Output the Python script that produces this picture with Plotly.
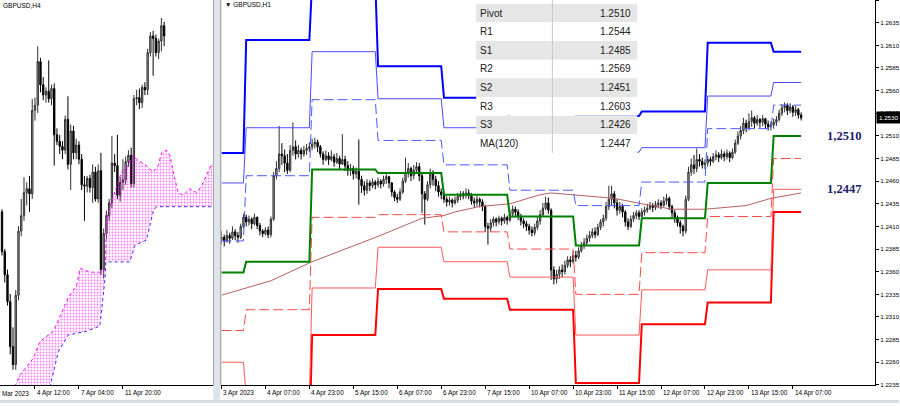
import plotly.graph_objects as go

W, H = 900, 406

# ---------------- H1 chart (right panel) ----------------
h1_tick_bars = [0, 16, 32, 48, 64, 80, 96, 112, 128, 144, 160, 176, 192, 208]
h1_tick_text = ["3 Apr 2023", "4 Apr 07:00", "4 Apr 23:00", "5 Apr 15:00", "6 Apr 07:00",
                "6 Apr 23:00", "7 Apr 15:00", "10 Apr 07:00", "10 Apr 23:00", "11 Apr 15:00",
                "12 Apr 07:00", "12 Apr 23:00", "13 Apr 15:00", "14 Apr 07:00"]
price_ticks = [1.2235, 1.2260, 1.2285, 1.2310, 1.2335, 1.2360, 1.2385, 1.2410, 1.2435,
               1.2460, 1.2485, 1.2510, 1.2535, 1.2560, 1.2585, 1.2610, 1.2635, 1.2660]
price_tick_text = ["1.2235", "1.2260", "1.2285", "1.2310", "1.2335", "1.2360", "1.2385", "1.2410",
                   "1.2435", "1.2460", "1.2485", "1.2510", "1.2535", "1.2560", "1.2585", "1.2610",
                   "1.2635", "1.2660"]

# daily pivot levels (3,4,5,6,7,10,11,12,13,14 Apr) and first H1 bar of each day
day_start_bars = [0, 9, 33, 57, 81, 105, 129, 153, 177, 201]
R3 = [1.2491, 1.2616, 1.2680, 1.2587, 1.2552, 1.2520, 1.2532, 1.2537, 1.2613, 1.2603]
R2 = [1.2458, 1.2519, 1.2603, 1.2551, 1.2519, 1.2495, 1.2492, 1.2497, 1.2554, 1.2569]
R1 = [1.2394, 1.2466, 1.2550, 1.2505, 1.2478, 1.2450, 1.2433, 1.2459, 1.2518, 1.2544]
PIV = [1.2359, 1.2371, 1.2473, 1.2469, 1.2445, 1.2421, 1.2389, 1.2419, 1.2458, 1.2510]
S1 = [1.2295, 1.2318, 1.2420, 1.2423, 1.2404, 1.2385, 1.2335, 1.2381, 1.2421, 1.2485]
S2 = [1.2260, 1.2223, 1.2342, 1.2387, 1.2371, 1.2354, 1.2290, 1.2340, 1.2362, 1.2451]
S3 = [1.2196, 1.2170, 1.2290, 1.2341, 1.2330, 1.2318, 1.2237, 1.2302, 1.2326, 1.2426]

ma_bars = [0, 18, 33, 57, 73, 81, 85, 94, 105, 116, 120, 128, 138, 143, 153, 164, 176, 191, 200, 211]
ma_vals = [1.2334, 1.2350, 1.2371, 1.2399, 1.2419, 1.2422, 1.2426, 1.2432, 1.2435, 1.2445,
           1.2447, 1.2445, 1.2442, 1.2441, 1.2435, 1.2429, 1.2429, 1.2433, 1.2441, 1.2447]

# H1 candles, prices in pips (1.2398 -> 2398)
h1_first_open = 2395
h1_close = [
    2398, 2394, 2400, 2397, 2404, 2400, 2398, 2410, 2420, 2415,
    2418, 2413, 2420, 2411, 2405, 2402, 2406, 2401, 2418, 2466,
    2474, 2490, 2488, 2480, 2472, 2494, 2498, 2490, 2494, 2490,
    2494, 2496, 2498, 2501, 2503, 2498, 2490, 2484, 2488, 2484,
    2487, 2481, 2485, 2479, 2484, 2477, 2472, 2474, 2468, 2471,
    2462, 2455, 2450, 2458, 2455, 2459, 2456, 2460, 2457, 2462,
    2465, 2458, 2448, 2442, 2440, 2448, 2460, 2470, 2474, 2466,
    2472, 2476, 2466, 2446, 2440, 2456, 2468, 2462, 2455, 2448,
    2445, 2440, 2437, 2439, 2436, 2439, 2443, 2446, 2444, 2447,
    2444, 2438, 2436, 2440, 2437, 2432, 2410, 2408, 2414, 2418,
    2415, 2419, 2416, 2420, 2417, 2424, 2429, 2426, 2421, 2416,
    2413, 2410, 2406, 2403, 2409, 2416, 2423, 2430, 2436, 2428,
    2362, 2352, 2357, 2362, 2360, 2367, 2373, 2371, 2378, 2376,
    2383, 2389, 2392, 2397, 2400, 2404, 2401, 2409, 2415, 2419,
    2432, 2440, 2446, 2436, 2428, 2432, 2426, 2415, 2410, 2418,
    2422, 2425, 2421, 2426, 2428, 2430, 2433, 2431, 2434, 2436,
    2433, 2438, 2441, 2432, 2425, 2420, 2414, 2410, 2405, 2440,
    2470, 2478, 2474, 2484, 2482, 2478, 2480, 2484, 2482, 2487,
    2489, 2486, 2490, 2487, 2491, 2486, 2492, 2502, 2510, 2516,
    2524, 2519, 2526, 2530, 2524, 2528, 2525, 2529, 2523, 2520,
    2522, 2525, 2528, 2535, 2541, 2544, 2538, 2542, 2536, 2539,
    2533, 2530]
h1_high = [
    2405, 2401, 2406, 2403, 2410, 2407, 2404, 2413, 2424, 2423,
    2422, 2420, 2424, 2421, 2414, 2407, 2409, 2410, 2421, 2470,
    2482, 2521, 2502, 2495, 2490, 2500, 2525, 2505, 2500, 2497,
    2499, 2501, 2503, 2507, 2508, 2506, 2500, 2493, 2494, 2492,
    2494, 2490, 2491, 2488, 2512, 2488, 2482, 2479, 2477, 2475,
    2506, 2466, 2460, 2462, 2461, 2463, 2461, 2464, 2462, 2466,
    2468, 2466, 2459, 2450, 2446, 2452, 2464, 2486, 2480, 2476,
    2478, 2481, 2480, 2468, 2449, 2460, 2474, 2472, 2466, 2460,
    2452, 2448, 2443, 2443, 2441, 2443, 2447, 2449, 2449, 2452,
    2451, 2447, 2442, 2444, 2442, 2440, 2434, 2414, 2418, 2421,
    2420, 2422, 2421, 2424, 2422, 2428, 2433, 2432, 2429, 2424,
    2419, 2416, 2413, 2410, 2413, 2420, 2428, 2436, 2443, 2442,
    2430, 2366, 2362, 2366, 2368, 2372, 2377, 2377, 2383, 2383,
    2387, 2393, 2397, 2401, 2405, 2408, 2409, 2413, 2418, 2423,
    2437, 2455, 2455, 2449, 2440, 2437, 2435, 2428, 2419, 2422,
    2426, 2428, 2428, 2430, 2432, 2435, 2437, 2436, 2438, 2440,
    2439, 2443, 2446, 2443, 2434, 2428, 2422, 2417, 2412, 2444,
    2476, 2485, 2489, 2496, 2490, 2486, 2484, 2488, 2487, 2491,
    2494, 2492, 2495, 2493, 2495, 2493, 2496, 2506, 2515, 2521,
    2530, 2528, 2535, 2538, 2532, 2533, 2530, 2533, 2530, 2527,
    2526, 2529, 2532, 2539, 2545, 2547, 2546, 2546, 2544, 2543,
    2541, 2536]
h1_low = [
    2390, 2388, 2392, 2391, 2395, 2395, 2392, 2396, 2408, 2410,
    2411, 2407, 2411, 2407, 2400, 2398, 2400, 2397, 2398, 2416,
    2462, 2470, 2478, 2470, 2468, 2470, 2488, 2484, 2486, 2484,
    2487, 2489, 2492, 2494, 2496, 2492, 2486, 2478, 2482, 2478,
    2482, 2476, 2479, 2472, 2478, 2471, 2466, 2466, 2462, 2463,
    2434, 2447, 2444, 2446, 2449, 2452, 2451, 2453, 2452, 2454,
    2457, 2452, 2443, 2438, 2436, 2438, 2446, 2458, 2464, 2460,
    2462, 2468, 2460, 2425, 2412, 2438, 2452, 2455, 2449, 2443,
    2440, 2436, 2432, 2433, 2431, 2434, 2436, 2439, 2440, 2441,
    2440, 2434, 2431, 2432, 2431, 2427, 2404, 2390, 2404, 2410,
    2410, 2412, 2411, 2413, 2412, 2415, 2420, 2420, 2417, 2411,
    2408, 2405, 2401, 2399, 2400, 2406, 2412, 2421, 2428, 2424,
    2351, 2346, 2347, 2352, 2354, 2357, 2364, 2365, 2369, 2371,
    2374, 2381, 2385, 2389, 2393, 2397, 2397, 2399, 2406, 2410,
    2416, 2428, 2433, 2430, 2422, 2424, 2420, 2410, 2406, 2408,
    2415, 2418, 2417, 2420, 2422, 2425, 2428, 2426, 2428, 2430,
    2429, 2432, 2434, 2428, 2420, 2414, 2410, 2402, 2399, 2402,
    2438, 2466, 2468, 2470, 2476, 2474, 2473, 2476, 2477, 2480,
    2483, 2481, 2484, 2482, 2484, 2481, 2484, 2490, 2500, 2506,
    2512, 2514, 2516, 2520, 2518, 2521, 2519, 2521, 2518, 2516,
    2516, 2518, 2521, 2526, 2532, 2536, 2533, 2535, 2531, 2532,
    2529, 2527]

table_labels = ["Pivot", "R1", "S1", "R2", "S2", "R3", "S3", "MA(120)"]
current_price = 1.2530

# ---------------- H4 chart (left panel) ----------------
h4_tick_k = [-16, 0, 16, 32]
h4_tick_text = ["30 Mar 2023", "4 Apr 12:00", "7 Apr 04:00", "11 Apr 20:00"]
h4_k = list(range(-12, 48))
h4_open = [2395, 2364, 2346, 2325, 2290, 2276, 2330, 2380, 2392, 2410, 2413, 2409,
           2474, 2478, 2512, 2494, 2486, 2489, 2483, 2491, 2455, 2450, 2446, 2443,
           2467, 2432, 2458, 2441, 2447, 2436, 2416, 2415, 2421, 2414, 2426, 2405,
           2427, 2350, 2378, 2392, 2402, 2433, 2431, 2408, 2418, 2420, 2434, 2439,
           2417, 2483, 2484, 2480, 2492, 2490, 2519, 2532, 2530, 2519, 2528, 2540]
h4_high = [2397, 2366, 2350, 2331, 2305, 2334, 2384, 2405, 2422, 2418, 2423, 2483,
           2484, 2524, 2515, 2500, 2492, 2513, 2494, 2495, 2460, 2455, 2450, 2470,
           2485, 2463, 2462, 2452, 2450, 2440, 2423, 2423, 2424, 2432, 2430, 2432,
           2441, 2382, 2396, 2405, 2454, 2440, 2455, 2422, 2436, 2438, 2443, 2445,
           2486, 2490, 2491, 2494, 2496, 2522, 2535, 2536, 2533, 2530, 2546, 2543]
h4_low = [2361, 2340, 2322, 2284, 2272, 2272, 2326, 2376, 2388, 2400, 2395, 2405,
          2466, 2472, 2488, 2482, 2480, 2480, 2478, 2431, 2447, 2440, 2436, 2440,
          2428, 2412, 2436, 2436, 2432, 2412, 2388, 2410, 2410, 2402, 2403, 2402,
          2346, 2343, 2374, 2388, 2398, 2426, 2405, 2403, 2412, 2416, 2430, 2414,
          2414, 2478, 2475, 2476, 2486, 2486, 2516, 2501, 2516, 2514, 2520, 2524]
h4_close = [2364, 2346, 2325, 2290, 2276, 2330, 2380, 2392, 2410, 2413, 2409, 2474,
            2478, 2512, 2494, 2486, 2489, 2483, 2491, 2455, 2450, 2446, 2443, 2467,
            2432, 2458, 2441, 2447, 2436, 2416, 2415, 2421, 2414, 2426, 2405, 2427,
            2350, 2378, 2392, 2402, 2433, 2431, 2408, 2418, 2420, 2434, 2439, 2417,
            2483, 2484, 2480, 2492, 2490, 2519, 2532, 2530, 2519, 2528, 2540, 2532]

# Ichimoku cloud edges (bar index relative to 4 Apr 12:00, pips)
cloud_a_k = [-7.3, -5.5, -0.6, 1.8, 6.7, 12.1, 15.2, 16.4, 20.0, 23.6, 25.5, 26.1, 27.9, 29.7,
             31.5, 33.9, 35.8, 37.0, 40.6, 43.0, 44.8, 46.1, 47.9, 49.1, 50.3, 52.1, 53.9,
             56.4, 58.8, 60.6, 62.4, 64.2, 64.9]
cloud_a = [2259, 2268, 2281, 2294, 2302, 2328, 2338, 2351, 2348, 2348, 2350, 2390, 2403, 2415,
           2426, 2431, 2439, 2436, 2431, 2426, 2431, 2441, 2443, 2439, 2426, 2410, 2408,
           2413, 2410, 2415, 2423, 2432, 2431]
cloud_b_k = [-7.3, 5.5, 8.5, 12.1, 18.8, 23.6, 25.5, 25.8, 34.5, 36.4, 40.6, 43.0, 44.2, 64.9]
cloud_b = [2240, 2259, 2286, 2299, 2302, 2306, 2343, 2356, 2356, 2369, 2373, 2395, 2399, 2399]


def pip(v):
    return 1 + v / 10000.0


def per_bar(levels, n):
    out = []
    d = 0
    for i in range(n):
        while d + 1 < len(day_start_bars) and day_start_bars[d + 1] <= i:
            d += 1
        out.append(levels[d])
    return out


def px(x, y):
    return x / W, 1 - y / H


n1 = len(h1_close)
bars = list(range(n1))
h1_open = [h1_first_open] + h1_close[:-1]
o1 = [pip(v) for v in h1_open]
c1 = [pip(v) for v in h1_close]
hi1 = [max(pip(h), o, c) for h, o, c in zip(h1_high, o1, c1)]
lo1 = [min(pip(l), o, c) for l, o, c in zip(h1_low, o1, c1)]

fig = go.Figure()

# ---- left panel: cloud ----
poly_k = cloud_a_k + cloud_b_k[::-1]
poly_p = [pip(v) for v in cloud_a] + [pip(v) for v in cloud_b[::-1]]
fig.add_trace(go.Scatter(x=poly_k, y=poly_p, mode="lines", fill="toself",
                         fillcolor="rgba(0,0,0,0)",
                         fillpattern=dict(shape=".", fgcolor="#ff00ff", bgcolor="rgba(0,0,0,0)",
                                          size=3, solidity=0.35),
                         line=dict(width=0), xaxis="x", yaxis="y", hoverinfo="skip"))
fig.add_trace(go.Scatter(x=cloud_a_k, y=[pip(v) for v in cloud_a], mode="lines",
                         line=dict(color="#ff00ff", width=1, dash="dot"), xaxis="x", yaxis="y"))
fig.add_trace(go.Scatter(x=cloud_b_k, y=[pip(v) for v in cloud_b], mode="lines",
                         line=dict(color="#3030ff", width=1, dash="dot"), xaxis="x", yaxis="y"))
fig.add_trace(go.Candlestick(x=h4_k, open=[pip(v) for v in h4_open], high=[pip(v) for v in h4_high],
                             low=[pip(v) for v in h4_low], close=[pip(v) for v in h4_close],
                             increasing=dict(line=dict(color="#303030", width=1), fillcolor="#a8a8a8"),
                             decreasing=dict(line=dict(color="#000000", width=1), fillcolor="#000000"),
                             whiskerwidth=0, xaxis="x", yaxis="y"))

# ---- right panel: candles, MA, pivots ----
fig.add_trace(go.Candlestick(x=bars, open=o1, high=hi1, low=lo1, close=c1,
                             increasing=dict(line=dict(color="#303030", width=1), fillcolor="#b0b0b0"),
                             decreasing=dict(line=dict(color="#000000", width=1), fillcolor="#000000"),
                             whiskerwidth=0, xaxis="x2", yaxis="y2"))
fig.add_trace(go.Scatter(x=ma_bars, y=ma_vals, mode="lines",
                         line=dict(color="#b86060", width=1), xaxis="x2", yaxis="y2"))

level_styles = [
    (S3, "#ff0000", 2, "solid"),
    (S2, "#ff5a5a", 1, "solid"),
    (S1, "#ff4848", 1, "10px,4px"),
    (PIV, "#008000", 2, "solid"),
    (R1, "#4a5aff", 1, "10px,4px"),
    (R2, "#4a4aff", 1, "solid"),
    (R3, "#0000ff", 2, "solid"),
]
for lv, col, wdt, dash in level_styles:
    fig.add_trace(go.Scatter(x=bars, y=per_bar(lv, n1), mode="lines",
                             line=dict(color=col, width=wdt, dash=dash),
                             xaxis="x2", yaxis="y2", hoverinfo="skip"))

shapes = []
annotations = []

# separator and borders
x0, y0 = px(213.5, 0)
x1, y1 = px(220.5, 406)
shapes.append(dict(type="rect", xref="paper", yref="paper", x0=x0, x1=x1, y0=y1, y1=y0,
                   fillcolor="#dfe4ea", line=dict(width=0), layer="above"))
shapes.append(dict(type="line", xref="paper", yref="paper", x0=221 / W, x1=221 / W, y0=1 - 388 / H, y1=1,
                   line=dict(color="#909090", width=1), layer="above"))
shapes.append(dict(type="rect", xref="paper", yref="paper", x0=0, x1=1, y0=0, y1=1 - 403 / H,
                   fillcolor="#d5dbe3", line=dict(width=0), layer="above"))

# table
tx0, tx1 = 476.7, 638.0
row_h = 18.8
top = 3.7
shapes.append(dict(type="rect", xref="paper", yref="paper", x0=tx0 / W, x1=tx1 / W,
                   y0=1 - top / H, y1=1.0, fillcolor="#ffffff", line=dict(width=0), layer="above"))
table_vals = [PIV[-1], R1[-1], S1[-1], R2[-1], S2[-1], R3[-1], S3[-1], ma_vals[-1]]
for i, (lab, val) in enumerate(zip(table_labels, table_vals)):
    ya = top + i * row_h
    yb = ya + row_h
    shapes.append(dict(type="rect", xref="paper", yref="paper", x0=tx0 / W, x1=tx1 / W,
                       y0=1 - yb / H, y1=1 - ya / H,
                       fillcolor="#e6e6e6" if i % 2 == 0 else "#ffffff",
                       line=dict(width=0), layer="above"))
    yc = 1 - (ya + row_h / 2) / H
    annotations.append(dict(x=479 / W, y=yc, xref="paper", yref="paper", text=lab, showarrow=False,
                            xanchor="left", yanchor="middle",
                            font=dict(family="Liberation Sans", size=10, color="#202020")))
    annotations.append(dict(x=634 / W, y=yc, xref="paper", yref="paper", text=f"{val:.4f}",
                            showarrow=False, xanchor="right", yanchor="middle",
                            font=dict(family="Liberation Sans", size=10, color="#202020")))
tbl_bottom = top + len(table_labels) * row_h
shapes.append(dict(type="line", xref="paper", yref="paper", x0=553 / W, x1=553 / W,
                   y0=1 - tbl_bottom / H, y1=1, line=dict(color="#c8c8c8", width=1), layer="above"))

# time labels
lab_y = 1 - 396 / H
for b, t in zip(h1_tick_bars, h1_tick_text):
    annotations.append(dict(x=b, y=lab_y, xref="x2", yref="paper", text=t, showarrow=False,
                            xanchor="left", yanchor="middle", xshift=0,
                            font=dict(family="Liberation Sans", size=6.4, color="#000")))
for k, t in zip(h4_tick_k, h4_tick_text):
    if k < -12:
        annotations.append(dict(x=(35 + 2.75 * k) / W, y=lab_y, xref="paper", yref="paper", text=t,
                                showarrow=False, xanchor="left", yanchor="middle",
                                font=dict(family="Liberation Sans", size=6.4, color="#000")))
    else:
        annotations.append(dict(x=k, y=lab_y, xref="x", yref="paper", text=t, showarrow=False,
                                xanchor="left", yanchor="middle",
                                font=dict(family="Liberation Sans", size=6.4, color="#000")))

# titles
annotations.append(dict(x=1 / W, y=1 - 6 / H, xref="paper", yref="paper", text="GBPUSD,H4",
                        showarrow=False, xanchor="left", yanchor="middle",
                        font=dict(family="Liberation Sans", size=6.5, color="#000")))
annotations.append(dict(x=223 / W, y=1 - 5 / H, xref="paper", yref="paper", text="▼ GBPUSD,H1",
                        showarrow=False, xanchor="left", yanchor="middle",
                        font=dict(family="Liberation Sans", size=6.5, color="#000")))

# level labels
annotations.append(dict(x=226.7, y=PIV[-1], xref="x2", yref="y2",
                        text="<b>" + f"{PIV[-1]:.4f}".replace(".", ",") + "</b>",
                        showarrow=False, xanchor="center", yanchor="middle",
                        font=dict(family="Liberation Serif", size=12.5, color="#1c1c6e")))
annotations.append(dict(x=226.7, y=ma_vals[-1], xref="x2", yref="y2", yshift=4,
                        text="<b>" + f"{ma_vals[-1]:.4f}".replace(".", ",") + "</b>",
                        showarrow=False, xanchor="center", yanchor="middle",
                        font=dict(family="Liberation Serif", size=12.5, color="#1c1c6e")))

# current price tag
annotations.append(dict(x=877 / W, y=current_price, xref="paper", yref="y2", text=f"{current_price:.4f}",
                        showarrow=False, xanchor="left", yanchor="middle", bgcolor="#000000",
                        borderpad=2, font=dict(family="Liberation Sans", size=6.2, color="#ffffff")))

ydom = [1 - 388 / H, 1]
fig.update_layout(
    width=W, height=H, margin=dict(l=0, r=0, t=0, b=0),
    paper_bgcolor="#ffffff", plot_bgcolor="#ffffff", showlegend=False,
    xaxis=dict(domain=[0, 213 / W], range=[-12.73, 64.7], anchor="y", showgrid=False, zeroline=False,
               showline=True, linecolor="#000", linewidth=1, ticks="outside", ticklen=3,
               tickcolor="#000", tickvals=h4_tick_k, showticklabels=False,
               rangeslider=dict(visible=False), fixedrange=True),
    yaxis=dict(domain=ydom, range=[1.2260, 1.2560], anchor="x", side="right", showgrid=False,
               zeroline=False, showline=True, linecolor="#000", linewidth=1, showticklabels=False,
               ticks="", fixedrange=True),
    xaxis2=dict(domain=[221.7 / W, 876 / W], range=[0, 237.9], anchor="y2", showgrid=False,
                zeroline=False, showline=True, linecolor="#000", linewidth=1, ticks="outside",
                ticklen=3, tickcolor="#000", tickvals=h1_tick_bars, showticklabels=False,
                rangeslider=dict(visible=False), fixedrange=True),
    yaxis2=dict(domain=ydom, range=[1.22347, 1.26601], anchor="x2", side="right", showgrid=False,
                zeroline=False, showline=True, linecolor="#000", linewidth=1, ticks="outside",
                ticklen=3, tickcolor="#000", tickvals=price_ticks, ticktext=price_tick_text,
                tickfont=dict(family="Liberation Sans", size=6.2, color="#000"), fixedrange=True),
    shapes=shapes, annotations=annotations,
)

fig.write_html("out.html", config={"displayModeBar": False},
               post_script="document.body.style.margin='0px';document.body.style.overflow='hidden';")
